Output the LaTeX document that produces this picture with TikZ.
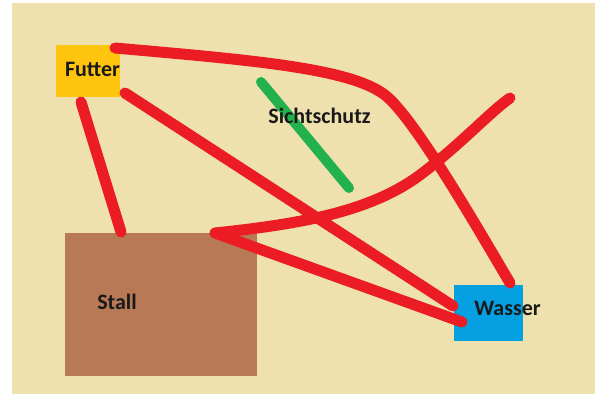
\documentclass[tikz,border=0pt]{standalone}
\usepackage{fontspec}
\setmainfont{Carlito}
\definecolor{hintergrund}{RGB}{238,225,174}
\definecolor{futtergelb}{RGB}{255,197,14}
\definecolor{wasserblau}{RGB}{4,160,226}
\definecolor{stallbraun}{RGB}{184,122,86}
\definecolor{wegrot}{RGB}{236,28,36}
\definecolor{schutzgruen}{RGB}{34,177,76}
\begin{document}
\begin{tikzpicture}[x=1pt, y=-1pt,
    feld/.style={inner sep=0pt, anchor=north west},
    beschriftung/.style={font=\fontsize{22}{24}\selectfont\bfseries, text=black!90, inner sep=0pt},
    weg/.style={draw=wegrot, line width=11pt, line cap=round}]
            \useasboundingbox (0,0) rectangle (595,394);
            \fill [hintergrund] (12,3) rectangle (595,394);
            \node [feld, fill=stallbraun, minimum width=192pt, minimum height=143pt] (stall) at (65,233) {};
            \node [feld, fill=futtergelb, minimum width=64pt, minimum height=52pt] (futter) at (56,45) {};
            \node [feld, fill=wasserblau, minimum width=69pt, minimum height=56pt] (wasser) at (454,285) {};
            \node [beschriftung] (stalltext) at (117,302) {Stall};
            \node [beschriftung] (futtertext) at (92.5,69) {Futter};
            \node [beschriftung] (wassertext) at (507.5,308) {Wasser};
            \coordinate (futterrechts) at (115,48);
            \coordinate (futterunten) at (81,102);
            \coordinate (futterecke) at (125,93);
            \coordinate (stalllinks) at (121,232);
            \coordinate (stallrechts) at (215,233);
            \coordinate (wasseroben) at (510,283);
            \coordinate (wasserlinks) at (453,306);
            \coordinate (wasserunten) at (462,322);
            \coordinate (wegende) at (510,98);
            \coordinate (schutzanfang) at (261,82);
            \coordinate (schutzende) at (349,188);
            \draw [weg] (futterrechts) .. controls (250,60) and (350,68) .. (385,95)
                .. controls (413,117) and (470,215) .. (wasseroben);
            \draw [weg] (futterunten) -- (stalllinks);
            \draw [weg] (futterecke) -- (wasserlinks);
            \draw [weg] (stallrechts) -- (wasserunten);
            \draw [weg] (stallrechts) .. controls (300,224) and (370,212) .. (420,175)
                .. controls (460,145) and (490,112) .. (wegende);
            \draw [draw=schutzgruen, line width=10pt, line cap=round] (schutzanfang) -- (schutzende);
            \node [beschriftung] (schutztext) at (319.5,116) {Sichtschutz};
        \end{tikzpicture}
\end{document}
